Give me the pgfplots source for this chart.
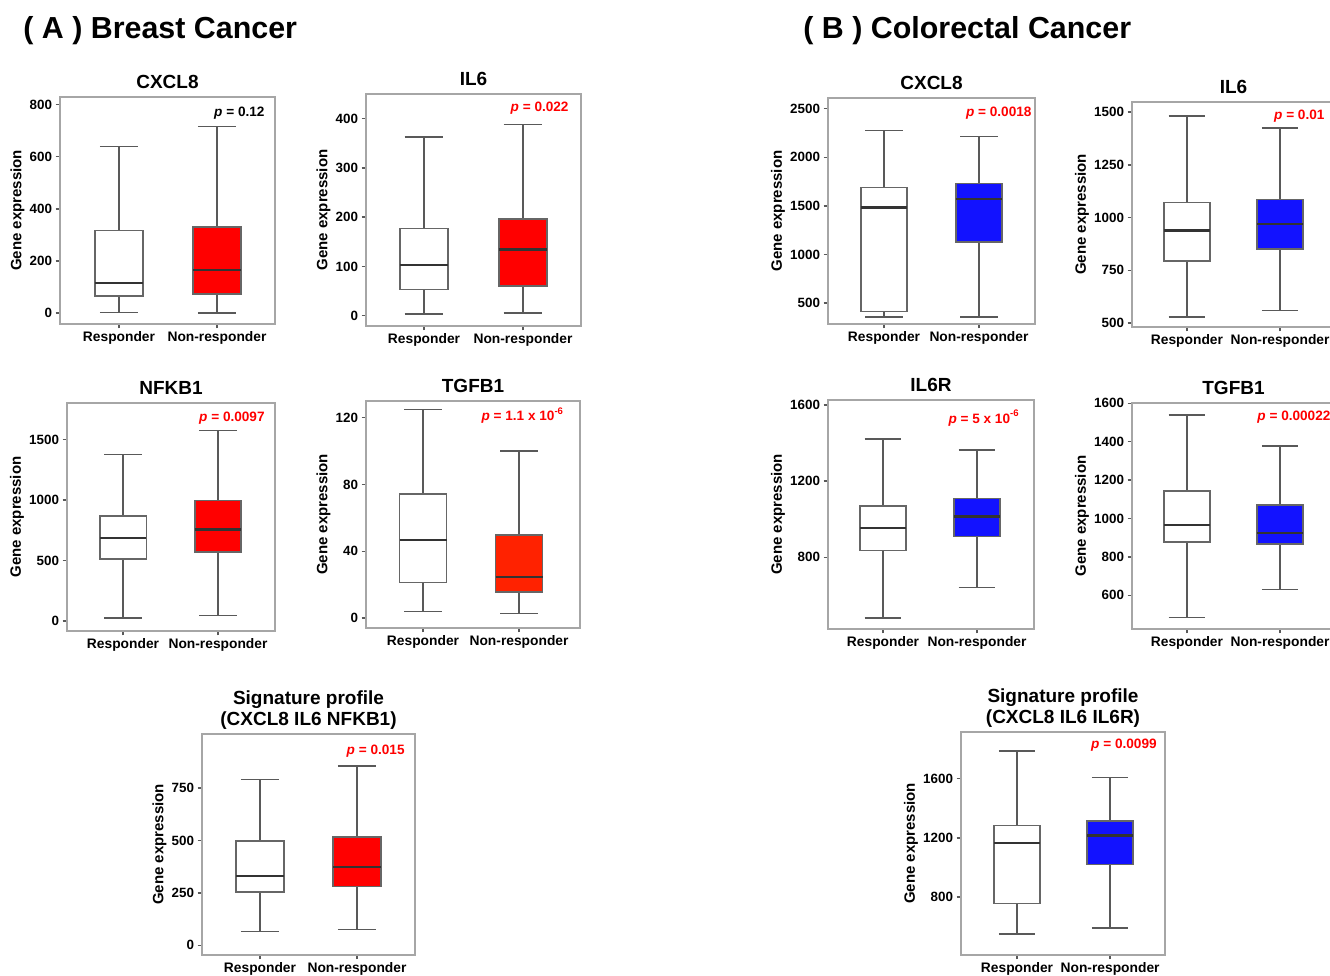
\documentclass[border=0pt]{standalone}
\usepackage{fontspec}
\setmainfont{Liberation Sans}
\usepackage{pgfplots}
\pgfplotsset{compat=1.18}
\definecolor{myred}{RGB}{255,0,0}
\definecolor{myorange}{RGB}{255,34,0}
\definecolor{myblue}{RGB}{18,18,255}
\pgfplotsset{
  panel/.style={
    scale only axis, anchor=south west,
    xtick={1,2}, xticklabels={Responder,Non-responder},
    axis line style={draw=black!35, line width=0.7pt},
    tick style={draw=black!65, line width=0.7pt},
    major tick length=2.2pt,
    tick align=outside,
    xtick pos=bottom, ytick pos=left,
    yticklabel style={font=\bfseries\fontsize{6.7}{7}\selectfont, inner sep=1.6pt},
    xticklabel style={font=\bfseries\fontsize{6.9}{7}\selectfont, inner sep=1.2pt},
    /pgf/number format/assume math mode=true,
    /pgf/number format/1000 sep={},
    ylabel={Gene expression},
    ylabel style={font=\bfseries\fontsize{7.5}{8}\selectfont, yshift=-2.5pt},
    title style={font=\bfseries\fontsize{9.5}{10.5}\selectfont, inner sep=0pt, anchor=south, yshift=-2pt},
    clip=false,
  },
  sig/.style={title style={align=center, anchor=south, yshift=-2pt}},
  whisk/.style={draw=black!65, line width=0.75pt, mark=none, solid},
  boxst/.style={draw=black!60, line width=0.8pt, mark=none, solid, line cap=rect},
  medst/.style={draw=black!80, line width=1.2pt, mark=none, solid},
}
\tikzset{ptxt/.style={inner sep=0pt, text=red, font=\bfseries\fontsize{6.8}{7}\selectfont}}
\newcommand{\pv}[1]{\textit{p} = #1}
% box at position 1: lower whisker, q1, median, q3, upper whisker, fill
\newcommand{\bxone}[6]{%
 \addplot[whisk] coordinates {(1,#4) (1,#5)};
 \addplot[whisk] coordinates {(0.804,#5) (1.196,#5)};
 \addplot[whisk] coordinates {(1,#1) (1,#2)};
 \addplot[whisk] coordinates {(0.804,#1) (1.196,#1)};
 \addplot[boxst, fill=#6] coordinates {(0.755,#2) (1.245,#2) (1.245,#4) (0.755,#4) (0.755,#2)};
 \addplot[medst] coordinates {(0.755,#3) (1.245,#3)};
}
\newcommand{\bxtwo}[6]{%
 \addplot[whisk] coordinates {(2,#4) (2,#5)};
 \addplot[whisk] coordinates {(1.804,#5) (2.196,#5)};
 \addplot[whisk] coordinates {(2,#1) (2,#2)};
 \addplot[whisk] coordinates {(1.804,#1) (2.196,#1)};
 \addplot[boxst, fill=#6] coordinates {(1.755,#2) (2.245,#2) (2.245,#4) (1.755,#4) (1.755,#2)};
 \addplot[medst] coordinates {(1.755,#3) (2.245,#3)};
}
\begin{document}
\begin{tikzpicture}
\node[anchor=base west, inner sep=0pt, font=\bfseries\fontsize{15.2}{17}\selectfont] at (11.5pt,468.5pt) {( A ) Breast Cancer};
\node[anchor=base west, inner sep=0pt, font=\bfseries\fontsize{15.2}{17}\selectfont] at (401.5pt,468.5pt) {( B ) Colorectal Cancer};

% A1 CXCL8
\begin{axis}[panel, at={(30pt,326pt)}, width=107.5pt, height=113.5pt,
  xmin=0.398, xmax=2.592, ymin=-42, ymax=829, ytick={0,200,400,600,800}, title={CXCL8}]
\bxone{3}{65}{115}{317}{639}{white}
\bxtwo{0}{74}{165}{331}{715}{myred}
\node[ptxt, text=black, anchor=east] at (rel axis cs:0.953,0.93) {\pv{0.12}};
\end{axis}

% A2 IL6
\begin{axis}[panel, at={(183pt,325pt)}, width=107.5pt, height=116pt,
  xmin=0.414, xmax=2.586, ymin=-21, ymax=450, ytick={0,100,200,300,400}, title={IL6}]
\bxone{3}{53}{103}{177}{363}{white}
\bxtwo{5}{60}{134}{196}{388}{myred}
\node[ptxt, anchor=east] at (rel axis cs:0.944,0.94) {\pv{0.022}};
\end{axis}

% B1 CXCL8
\begin{axis}[panel, at={(414pt,326pt)}, width=103.5pt, height=113pt,
  xmin=0.41, xmax=2.59, ymin=284, ymax=2610, ytick={500,1000,1500,2000,2500}, title={CXCL8}]
\bxone{356}{414}{1485}{1690}{2274}{white}
\bxtwo{356}{1128}{1570}{1728}{2215}{myblue}
\node[ptxt, anchor=east] at (rel axis cs:0.985,0.934) {\pv{0.0018}};
\end{axis}

% B2 IL6
\begin{axis}[panel, at={(566pt,324.5pt)}, width=101.5pt, height=112.5pt,
  xmin=0.41, xmax=2.59, ymin=481, ymax=1548, ytick={500,750,1000,1250,1500}, title={IL6}]
\bxone{529}{793}{939}{1071}{1481}{white}
\bxtwo{559}{850}{969}{1085}{1424}{myblue}
\node[ptxt, anchor=east] at (rel axis cs:0.95,0.938) {\pv{0.01}};
\end{axis}

% A3 NFKB1
\begin{axis}[panel, at={(33.5pt,172.5pt)}, width=104pt, height=114pt,
  xmin=0.41, xmax=2.6, ymin=-83, ymax=1804, ytick={0,500,1000,1500}, title={NFKB1}]
\bxone{25}{512}{689}{869}{1376}{white}
\bxtwo{44}{570}{756}{996}{1575}{myred}
\node[ptxt, anchor=east] at (rel axis cs:0.952,0.934) {\pv{0.0097}};
\end{axis}

% A4 TGFB1
\begin{axis}[panel, at={(183pt,174pt)}, width=107pt, height=113.5pt,
  xmin=0.406, xmax=2.635, ymin=-6, ymax=130, ytick={0,40,80,120}, title={TGFB1}]
\bxone{3.8}{21.3}{46.6}{74.3}{125}{white}
\bxtwo{2.8}{15.7}{24.7}{49.8}{100}{myorange}
\node[ptxt, anchor=east] at (rel axis cs:0.927,0.934) {\pv{1.1 x 10\textsuperscript{-6}}};
\end{axis}

% B3 IL6R
\begin{axis}[panel, at={(414pt,173.5pt)}, width=103pt, height=114.5pt,
  xmin=0.415, xmax=2.606, ymin=423, ymax=1626, ytick={800,1200,1600}, title={IL6R}]
\bxone{482}{835}{953}{1070}{1421}{white}
\bxtwo{642}{909}{1014}{1109}{1363}{myblue}
\node[ptxt, anchor=east] at (rel axis cs:0.932,0.921) {\pv{5 x 10\textsuperscript{-6}}};
\end{axis}

% B4 TGFB1
\begin{axis}[panel, at={(566pt,173.5pt)}, width=101.5pt, height=113pt,
  xmin=0.41, xmax=2.59, ymin=424, ymax=1602, ytick={600,800,1000,1200,1400,1600}, title={TGFB1}]
\bxone{483}{878}{967}{1143}{1539}{white}
\bxtwo{631}{866}{925}{1071}{1379}{myblue}
\node[ptxt, anchor=west] at (rel axis cs:0.616,0.938) {\pv{0.00022}};
\end{axis}

% A5 signature
\begin{axis}[panel, sig, at={(101pt,10.5pt)}, width=106.5pt, height=110.5pt,
  xmin=0.402, xmax=2.598, ymin=-46, ymax=1007, ytick={0,250,500,750}, title={Signature profile\\(CXCL8 IL6 NFKB1)}]
\bxone{65}{254}{331}{497}{791}{white}
\bxtwo{75}{281}{373}{515}{855}{myred}
\node[ptxt, anchor=east] at (rel axis cs:0.953,0.923) {\pv{0.015}};
\end{axis}

% B5 signature
\begin{axis}[panel, sig, at={(480.5pt,10.5pt)}, width=102pt, height=111.5pt,
  xmin=0.398, xmax=2.59, ymin=408, ymax=1915, ytick={800,1200,1600}, title={Signature profile\\(CXCL8 IL6 IL6R)}]
\bxone{550}{757}{1165}{1282}{1785}{white}
\bxtwo{590}{1019}{1215}{1312}{1607}{myblue}
\node[ptxt, anchor=east] at (rel axis cs:0.961,0.942) {\pv{0.0099}};
\end{axis}
\pgfresetboundingbox
\path[use as bounding box] (0,0) rectangle (665pt,488pt);
\end{tikzpicture}
\end{document}
